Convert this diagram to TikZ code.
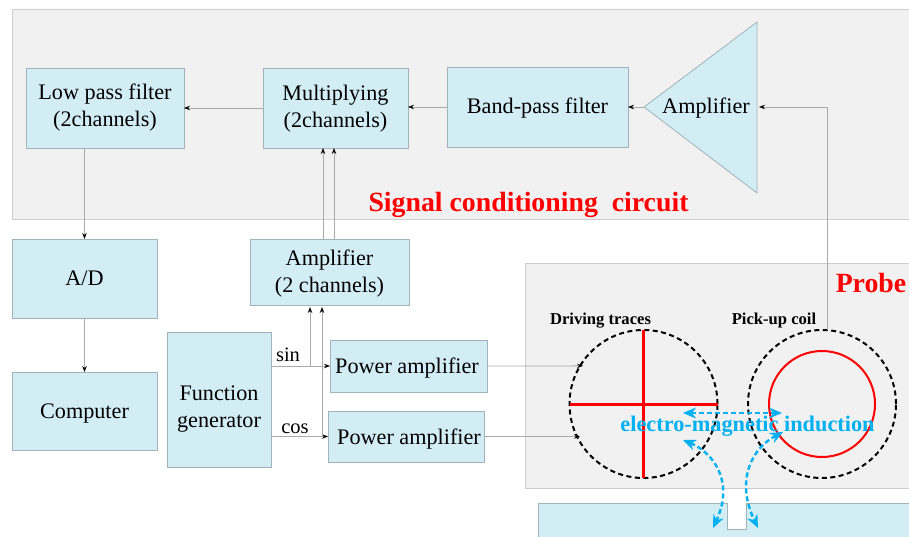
\documentclass[tikz,border=0pt]{standalone}
\usepackage{fontspec}
\setmainfont{Liberation Serif}
\usetikzlibrary{arrows.meta,positioning}
\definecolor{panelgray}{RGB}{241,241,241}
\definecolor{paneledge}{RGB}{205,205,205}
\definecolor{boxblue}{RGB}{211,237,245}
\definecolor{boxedge}{RGB}{160,178,186}
\definecolor{wiregray}{RGB}{170,170,170}
\definecolor{fieldblue}{RGB}{0,176,240}
\tikzset{
  blocktext/.style={align=center,font=\fontsize{22.2}{27}\selectfont},
  oneline/.style={text height=14pt,text depth=0pt},
  block/.style={blocktext,draw=boxedge,fill=boxblue,line width=.8pt,inner sep=0pt,outer sep=0pt},
  panel/.style={draw=paneledge,fill=panelgray,line width=.8pt,inner sep=0pt,outer sep=0pt},
  wire/.style={draw=wiregray,line width=.8pt,-{Stealth[length=6pt,width=4.5pt,black]}},
  ring/.style={circle,draw=black,dash pattern=on 5pt off 3.5pt,line width=2pt,minimum size=148pt,inner sep=0pt,outer sep=0pt},
  field/.style={draw=fieldblue,line width=2.4pt,dash pattern=on 5pt off 3pt,{Stealth[length=13pt,width=11pt,fieldblue]}-{Stealth[length=13pt,width=11pt,fieldblue]}},
  redtitle/.style={text=red,font=\fontsize{27.8}{30}\selectfont\bfseries,inner sep=0pt},
  smalltitle/.style={font=\fontsize{16.6}{18}\selectfont\bfseries,inner sep=0pt},
  tag/.style={font=\fontsize{20.5}{22}\selectfont,inner sep=0pt}
}
\begin{document}
\begin{tikzpicture}[x=1pt,y=-1pt]
  \useasboundingbox (0,0) rectangle (909,537);
  % panels
  \node[panel,minimum width=897pt,minimum height=210pt] (condpanel) at (460.5,114) {};
  \node[panel,minimum width=384pt,minimum height=225pt] (probepanel) at (717,375.5) {};
  \node[block,minimum width=371pt,minimum height=34pt] (sample) at (723.5,520) {};
  \node[draw=boxedge,fill=white,line width=.8pt,minimum width=19pt,minimum height=26pt,inner sep=0pt] (notch) at (736.5,516) {};
  \fill[white] (727.5,500) rectangle (745.5,504);
  % blocks
  \node[block,minimum width=158pt,minimum height=80pt] (lowpass) at (105,108) {Low pass filter\\(2channels)};
  \node[block,minimum width=145pt,minimum height=80pt] (multi) at (335.5,108) {};
  \node[blocktext] (multilabel) at (335.5,109) {Multiplying\\(2channels)};
  \node[block,oneline,minimum width=181pt,minimum height=80pt] (bandpass) at (537.5,107) {Band-pass filter};
  \draw[draw=boxedge,fill=boxblue,line width=.8pt] (644,107) coordinate (amptip) -- (757,22) -- (757,193) -- cycle;
  \coordinate (ampback) at (757,107);
  \node[blocktext,oneline,inner sep=0pt] (amplabel) at (706,107) {Amplifier};
  \node[block,oneline,minimum width=145pt,minimum height=79pt] (adconv) at (84.5,278.5) {A/D};
  \node[block,oneline,minimum width=145pt,minimum height=78pt] (computer) at (84.5,411) {Computer};
  \node[block,minimum width=159pt,minimum height=66pt] (amptwo) at (329.5,272) {};
  \node[blocktext] (amptwolabel) at (329.5,274) {Amplifier\\(2 channels)};
  \node[block,minimum width=104pt,minimum height=135pt] (funcgen) at (219,399.5) {};
  \node[blocktext] (funclabel) at (219,409) {Function\\generator};
  \node[block,minimum width=157pt,minimum height=52pt] (powerone) at (408.5,366) {};
  \node[blocktext,oneline,inner sep=0pt] (poweronelabel) at (407,366) {Power amplifier};
  \node[block,minimum width=156pt,minimum height=51pt] (powertwo) at (406,436.5) {};
  \node[blocktext,oneline,inner sep=0pt] (powertwolabel) at (409,437) {Power amplifier};
  % probe
  \node[ring] (driving) at (643.5,404) {};
  \node[ring] (pickup) at (822,404) {};
  \node[circle,draw=red,line width=2pt,minimum size=106pt,inner sep=0pt,outer sep=0pt] (coil) at (822,404) {};
  \draw[red,line width=3pt] (driving.west) -- (driving.east);
  \draw[red,line width=3pt] (driving.north) -- (driving.south);
  \node[smalltitle] (drivinglabel) at (600.5,321) {Driving traces};
  \node[smalltitle] (pickuplabel) at (774,321) {Pick-up coil};
  \node[redtitle] (probelabel) at (871,283) {Probe};
  \node[redtitle] (condlabel) at (528.5,205) {Signal conditioning\ \ circuit};
  % connectors
  \draw[wire] (lowpass.south -| adconv.north) -- (adconv.north);
  \draw[wire] (adconv.south) -- (computer.north);
  \draw[wire] (multi.west) -- (lowpass.east |- multi.west);
  \draw[wire] (bandpass.west) -- (multi.east |- bandpass.west);
  \draw[wire] (amptip) -- (bandpass.east);
  \draw[wire,shorten >=2pt] (pickup.86) |- (ampback);
  \coordinate (amptwoleft) at (323,239);
  \coordinate (amptworight) at (334,239);
  \draw[wire] (amptwoleft) -- (amptwoleft |- multi.south);
  \draw[wire] (amptworight) -- (amptworight |- multi.south);
  \draw[wire] (funcgen.east |- powerone.west) -- (powerone.west);
  \draw[wire] (funcgen.east |- powertwo.west) -- (powertwo.west);
  \coordinate (sinfork) at (310,366);
  \coordinate (cosfork) at (322,436.5);
  \draw[wire,shorten >=2pt] (sinfork) -- (sinfork |- amptwo.south);
  \draw[wire,shorten >=2pt] (cosfork) -- (cosfork |- amptwo.south);
  \node[tag] (sinlabel) at (288,355) {sin};
  \node[tag] (coslabel) at (295,429) {cos};
  \draw[wire,shorten >=-3pt] (powerone.east) -- (driving.149.1);
  \draw[wire,shorten >=-3pt] (powertwo.east) -- (driving.206.05);
  % field
  \coordinate (fieldleft) at (683,413);
  \coordinate (fieldright) at (782,413);
  \coordinate (backleft) at (683,440);
  \coordinate (backright) at (783,432);
  \coordinate (slotleft) at (713,528);
  \coordinate (slotright) at (758,528);
  \draw[field] (fieldleft) -- (fieldright);
  \draw[field] (backleft) .. controls (712,452) and (735,480) .. (slotleft);
  \draw[field] (backright) .. controls (752,448) and (735,480) .. (slotright);
  \node[text=fieldblue,font=\fontsize{22.3}{24}\selectfont\bfseries,inner sep=0pt] (fieldlabel) at (747.5,426) {electro-magnetic induction};
\end{tikzpicture}
\end{document}
